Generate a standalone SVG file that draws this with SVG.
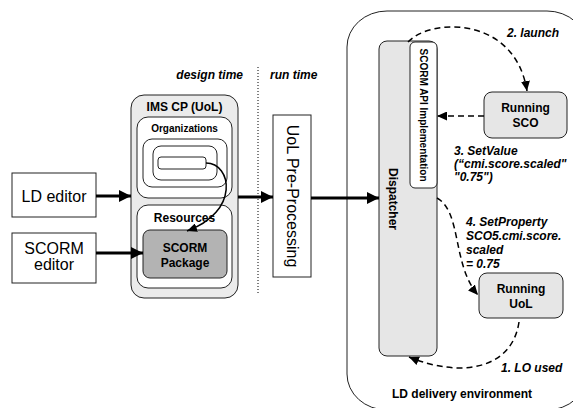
<svg xmlns="http://www.w3.org/2000/svg" width="573" height="408" viewBox="0 0 573 408">
<style>
  .box { stroke: #222; stroke-width: 1; }
  .t { font-family: "Liberation Sans", Arial, sans-serif; fill: #000; }
  .b { font-weight: bold; }
  .bi { font-weight: bold; font-style: italic; font-size: 12px; }
  .thick { stroke: #000; stroke-width: 3; fill: none; }
  .dash { stroke: #000; stroke-width: 1.5; fill: none; stroke-dasharray: 6 4; }
</style>
<defs>
  <marker id="ah" markerUnits="userSpaceOnUse" markerWidth="12" markerHeight="12" refX="12" refY="6" orient="auto">
    <path d="M0,0 L12,6 L0,12 z" fill="#000"/>
  </marker>
  <marker id="ad" markerUnits="userSpaceOnUse" markerWidth="10" markerHeight="9" refX="10" refY="4.5" orient="auto">
    <path d="M0,0 L10,4.5 L0,9 z" fill="#000"/>
  </marker>
</defs>
<rect width="573" height="408" fill="#fff"/>

<g id="labels-time">
  <text class="t bi" x="243" y="79" text-anchor="end">design time</text>
  <text class="t bi" x="270" y="79">run time</text>
  <line x1="258" y1="67" x2="258" y2="295" stroke="#000" stroke-width="1" stroke-dasharray="1 2"/>
</g>

<g id="ld-env">
  <rect class="box" x="347" y="11" width="240" height="399" rx="40" ry="36" fill="#fff"/>
  <text class="t b" x="462" y="398" font-size="12" text-anchor="middle">LD delivery environment</text>
</g>

<g id="ld-editor">
  <rect class="box" x="12" y="173" width="84" height="44" fill="#fff"/>
  <text class="t" x="54" y="202" font-size="16" text-anchor="middle">LD editor</text>
</g>

<g id="scorm-editor">
  <rect class="box" x="12" y="233" width="84" height="50" fill="#fff"/>
  <text class="t" x="54" y="254" font-size="16" text-anchor="middle">SCORM</text>
  <text class="t" x="54" y="270" font-size="16" text-anchor="middle">editor</text>
</g>

<g id="ims-cp">
  <rect class="box" x="131" y="95" width="107" height="203" rx="13" fill="#ebebeb"/>
  <text class="t b" x="184.5" y="111" font-size="12" text-anchor="middle">IMS CP (UoL)</text>
</g>

<g id="organizations">
  <rect class="box" x="137" y="117" width="95" height="81" rx="11" fill="#fff"/>
  <text class="t b" x="184.5" y="132" font-size="10" text-anchor="middle">Organizations</text>
  <rect class="box" x="143" y="139" width="84" height="48" rx="9" fill="#fff"/>
  <rect class="box" x="153" y="146" width="64" height="34" rx="8" fill="#fff"/>
  <rect class="box" x="158" y="157" width="48" height="12" rx="3" fill="#fff"/>
</g>

<g id="resources">
  <rect class="box" x="137" y="205" width="95" height="83" rx="11" fill="#fff"/>
  <text class="t b" x="184.5" y="222" font-size="12" text-anchor="middle">Resources</text>
</g>

<g id="scorm-package">
  <rect class="box" x="143" y="230" width="84" height="48" rx="7" fill="#b3b3b3"/>
  <text class="t b" x="185" y="252" font-size="12" text-anchor="middle">SCORM</text>
  <text class="t b" x="185" y="267" font-size="12" text-anchor="middle">Package</text>
</g>

<g id="uol-preprocessing">
  <rect class="box" x="273" y="115" width="38" height="162" fill="#fff"/>
  <text class="t" transform="translate(287,196) rotate(90)" font-size="16" text-anchor="middle">UoL Pre-Processing</text>
</g>

<g id="dispatcher">
  <rect class="box" x="379" y="41" width="58" height="315" rx="8" fill="#e6e6e6"/>
  <text class="t b" transform="translate(389,199) rotate(90)" font-size="12" text-anchor="middle">Dispatcher</text>
</g>

<g id="scorm-api">
  <rect class="box" x="410" y="42" width="27" height="146" rx="5" fill="#fff"/>
  <text class="t b" transform="translate(420,115) rotate(90)" font-size="10" text-anchor="middle">SCORM API Implementation</text>
</g>

<g id="running-sco">
  <rect class="box" x="484" y="92" width="83" height="46" rx="8" fill="#e6e6e6"/>
  <text class="t b" x="525.5" y="112" font-size="12" text-anchor="middle">Running</text>
  <text class="t b" x="525.5" y="127" font-size="12" text-anchor="middle">SCO</text>
</g>

<g id="running-uol">
  <rect class="box" x="479" y="273" width="84" height="45" rx="8" fill="#e6e6e6"/>
  <text class="t b" x="521" y="293" font-size="12" text-anchor="middle">Running</text>
  <text class="t b" x="521" y="308" font-size="12" text-anchor="middle">UoL</text>
</g>

<g id="connectors">
  <line class="thick" x1="96" y1="196" x2="131" y2="196" marker-end="url(#ah)"/>
  <line class="thick" x1="96" y1="253" x2="143" y2="253" marker-end="url(#ah)"/>
  <line class="thick" x1="238" y1="197" x2="273" y2="197" marker-end="url(#ah)"/>
  <line class="thick" x1="311" y1="198" x2="379" y2="198" marker-end="url(#ah)"/>
  <path d="M206,163 C232,163 240,212 187,231" stroke="#000" stroke-width="1.5" fill="none" marker-end="url(#ad)"/>
  <path class="dash" d="M408,42 C430,18 515,15 527,91" marker-end="url(#ad)"/>
  <line class="dash" x1="484" y1="116" x2="437" y2="116" marker-end="url(#ad)"/>
  <path class="dash" d="M437,198 C462,212 452,265 478,295" marker-end="url(#ad)"/>
  <path class="dash" d="M519,322 C512,370 460,378 409,357" marker-end="url(#ad)"/>
</g>

<g id="connector-labels">
  <text class="t bi" x="507" y="37">2. launch</text>
  <text class="t bi" x="454" y="155">3. SetValue</text>
  <text class="t bi" x="454" y="168">(“cmi.score.scaled"</text>
  <text class="t bi" x="454" y="181">"0.75")</text>
  <text class="t bi" x="466" y="226">4. SetProperty</text>
  <text class="t bi" x="466" y="240">SCO5.cmi.score.</text>
  <text class="t bi" x="466" y="254">scaled</text>
  <text class="t bi" x="466" y="268">= 0.75</text>
  <text class="t bi" x="501" y="372">1. LO used</text>
</g>
</svg>
